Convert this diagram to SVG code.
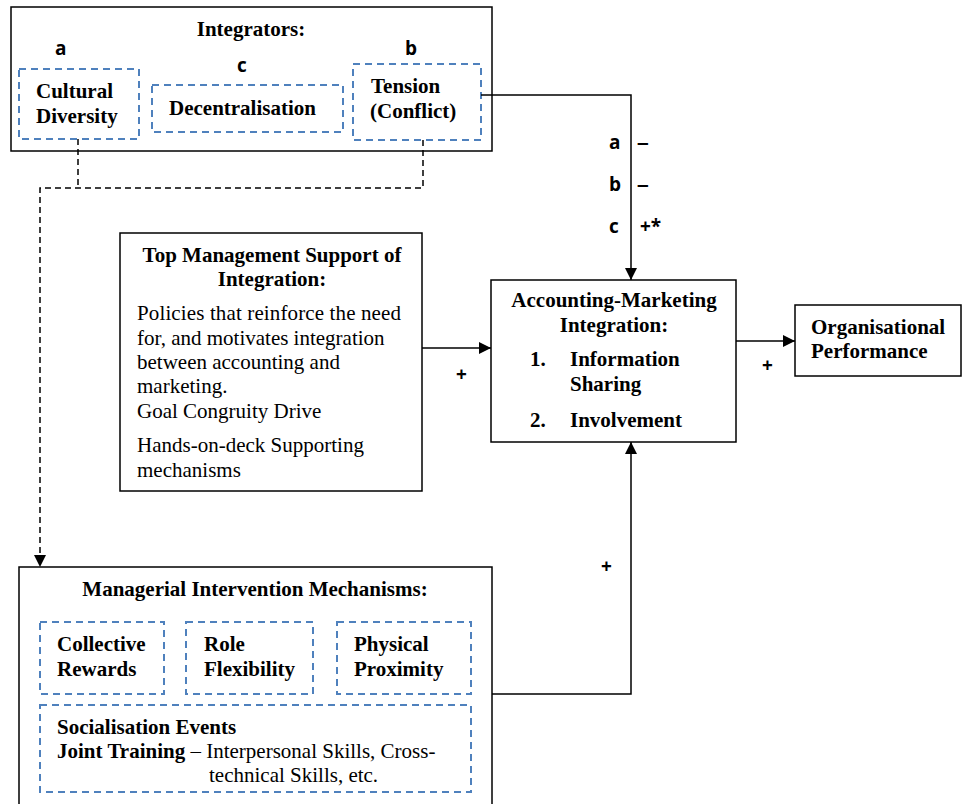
<svg xmlns="http://www.w3.org/2000/svg" width="962" height="804" viewBox="0 0 962 804">
<style>
.box{fill:#fff;stroke:#000;stroke-width:1.5}
.dbox{fill:none;stroke:#4f81bd;stroke-width:2;stroke-dasharray:7,5}
.t{font-family:"Liberation Serif","Times New Roman",serif;font-size:21px;fill:#000}
.b{font-weight:bold}
.c{text-anchor:middle}
.s{font-family:"Open Sans","Liberation Sans",sans-serif;font-weight:bold;font-size:19px;fill:#000}
.d{font-family:"Liberation Sans",sans-serif;font-weight:bold;font-size:21px;fill:#000}
.ln{fill:none;stroke:#000;stroke-width:1.5}
.dl{fill:none;stroke:#000;stroke-width:1.5;stroke-dasharray:6,4}
</style>
<defs>
<marker id="ah" markerUnits="userSpaceOnUse" markerWidth="12" markerHeight="12" viewBox="0 0 12 12" refX="12" refY="6" orient="auto">
<path d="M0,0 L12,6 L0,12 Z" fill="#000"/>
</marker>
</defs>

<g id="integrators">
<rect class="box" x="11" y="7" width="481" height="144"/>
<text class="t b c" x="251" y="36">Integrators:</text>
<text class="s" x="55" y="55">a</text>
<text class="s" x="237" y="72">c</text>
<text class="s" x="405" y="55">b</text>
<rect class="dbox" x="19" y="69" width="120" height="70"/>
<text class="t b" x="36" y="98">Cultural</text>
<text class="t b" x="36" y="123">Diversity</text>
<rect class="dbox" x="152" y="85" width="191" height="47"/>
<text class="t b" x="169" y="115">Decentralisation</text>
<rect class="dbox" x="353" y="64" width="128" height="76"/>
<text class="t b" x="371" y="93">Tension</text>
<text class="t b" x="370" y="118">(Conflict)</text>
</g>

<g id="topmgmt">
<rect class="box" x="120" y="233" width="302" height="258"/>
<text class="t b c" x="272" y="262">Top Management Support of</text>
<text class="t b c" x="272" y="286">Integration:</text>
<text class="t" x="137" y="320" textLength="264" lengthAdjust="spacing">Policies that reinforce the need</text>
<text class="t" x="137" y="345">for, and motivates integration</text>
<text class="t" x="137" y="369">between accounting and</text>
<text class="t" x="137" y="393">marketing.</text>
<text class="t" x="137" y="418">Goal Congruity Drive</text>
<text class="t" x="137" y="452">Hands-on-deck Supporting</text>
<text class="t" x="137" y="477">mechanisms</text>
</g>

<g id="ami">
<rect class="box" x="491" y="280" width="245" height="162"/>
<text class="t b c" x="614" y="307">Accounting-Marketing</text>
<text class="t b c" x="614" y="332">Integration:</text>
<text class="t b" x="530" y="366">1.</text>
<text class="t b" x="570" y="366">Information</text>
<text class="t b" x="570" y="391">Sharing</text>
<text class="t b" x="530" y="427">2.</text>
<text class="t b" x="570" y="427">Involvement</text>
</g>

<g id="orgperf">
<rect class="box" x="795" y="305" width="166" height="71"/>
<text class="t b" x="811" y="334">Organisational</text>
<text class="t b" x="811" y="358">Performance</text>
</g>

<g id="managerial">
<rect class="box" x="19" y="567" width="473" height="245"/>
<text class="t b c" x="255" y="596">Managerial Intervention Mechanisms:</text>
<rect class="dbox" x="40" y="622" width="124" height="72"/>
<text class="t b" x="57" y="651">Collective</text>
<text class="t b" x="57" y="676">Rewards</text>
<rect class="dbox" x="186" y="622" width="127" height="72"/>
<text class="t b" x="204" y="651">Role</text>
<text class="t b" x="204" y="676">Flexibility</text>
<rect class="dbox" x="337" y="622" width="134" height="72"/>
<text class="t b" x="354" y="651">Physical</text>
<text class="t b" x="354" y="676">Proximity</text>
<rect class="dbox" x="40" y="705" width="431" height="87"/>
<text class="t b" x="57" y="734">Socialisation Events</text>
<text class="t" x="57" y="758"><tspan class="b">Joint Training</tspan> – Interpersonal Skills, Cross-</text>
<text class="t" x="209" y="782">technical Skills, etc.</text>
</g>

<g id="connectors">
<path class="dl" d="M78,139 V188"/>
<path class="dl" d="M423,140 V188 H40 V567" marker-end="url(#ah)"/>
<path class="ln" d="M481,95 H631 V280" marker-end="url(#ah)"/>
<path class="ln" d="M422,348 H491" marker-end="url(#ah)"/>
<path class="ln" d="M736,341 H795" marker-end="url(#ah)"/>
<path class="ln" d="M492,694 H631 V442" marker-end="url(#ah)"/>
<text class="s" x="609" y="149">a</text>
<text class="d" x="637" y="149">–</text>
<text class="s" x="609" y="191">b</text>
<text class="d" x="637" y="191">–</text>
<text class="s" x="609" y="233">c</text>
<text class="s" x="640" y="233">+*</text>
<text class="s" x="456" y="381">+</text>
<text class="s" x="762" y="372">+</text>
<text class="s" x="601" y="573">+</text>
</g>
</svg>
